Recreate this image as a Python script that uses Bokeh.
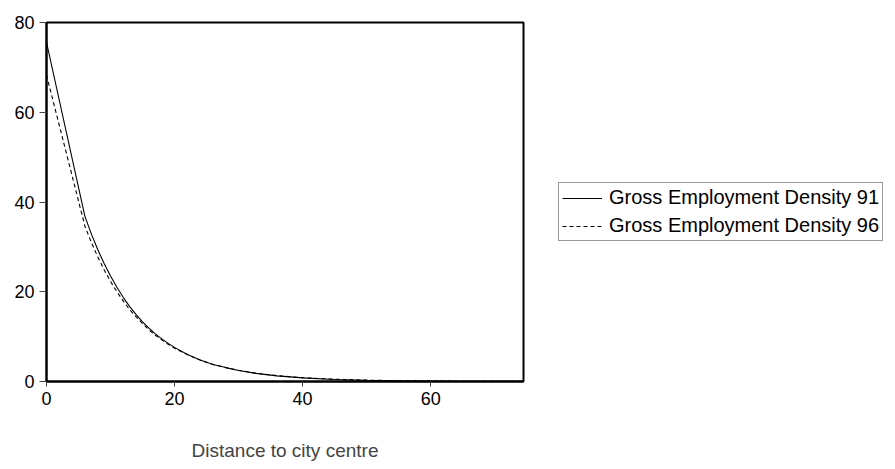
from bokeh.plotting import figure
from bokeh.models import Range1d, Legend, LegendItem, FixedTicker
from bokeh.embed import file_html
from bokeh.resources import INLINE

# Distance to city centre
dist = [0, 6, 7, 8, 9, 10, 11, 12, 13, 14, 15, 16, 17, 18, 19, 20, 22, 24, 26, 28,
        30, 33, 36, 40, 45, 50, 55, 60, 65, 70, 75]
# Gross Employment Density 91
dens91 = [75.6, 36.8, 32.9, 29.4, 26.3, 23.5, 21.0, 18.7, 16.7, 14.9, 13.3, 11.9,
          10.6, 9.5, 8.5, 7.6, 6.0, 4.8, 3.8, 3.1, 2.45, 1.75, 1.25, 0.8, 0.45,
          0.25, 0.14, 0.08, 0.05, 0.03, 0.02]
# Gross Employment Density 96
dens96 = [68.3, 34.6, 31.0, 27.8, 24.9, 22.3, 20.0, 17.9, 16.0, 14.4, 12.9, 11.5,
          10.3, 9.3, 8.3, 7.4, 6.0, 4.8, 3.8, 3.1, 2.5, 1.8, 1.3, 0.85, 0.5,
          0.3, 0.17, 0.1, 0.06, 0.04, 0.02]

x_ticks = [0, 20, 40, 60]
y_ticks = [0, 20, 40, 60, 80]
labels = ["Gross Employment Density 91", "Gross Employment Density 96"]

FONT = "Liberation Sans"
FS = "18px"

p = figure(frame_width=477, frame_height=359, output_backend="svg", toolbar_location=None,
           x_range=Range1d(0, 74.5), y_range=Range1d(0, 80),
           min_border_left=46, min_border_right=371, min_border_top=22,
           min_border_bottom=88)
p.background_fill_color = "white"
p.border_fill_color = "white"
p.outline_line_color = "black"
p.outline_line_width = 2
p.xgrid.visible = False
p.ygrid.visible = False

r1 = p.line(dist, dens91, line_color="black", line_width=1.1)
r2 = p.line(dist, dens96, line_color="black", line_width=1.1, line_dash="4 3")

for ax in (p.xaxis, p.yaxis):
    ax.axis_line_color = "black"
    ax.axis_line_width = 2
    ax.major_tick_line_color = "#444444"
    ax.major_tick_line_width = 1
    ax.minor_tick_line_color = None
    ax.major_tick_in = 0
    ax.major_label_text_font = FONT
    ax.major_label_text_font_size = FS
    ax.major_label_text_color = "black"

p.xaxis.ticker = FixedTicker(ticks=x_ticks)
p.yaxis.ticker = FixedTicker(ticks=y_ticks)
p.xaxis.major_tick_out = 5
p.yaxis.major_tick_out = 7
p.xaxis.major_label_standoff = 5
p.yaxis.major_label_standoff = 5
p.yaxis.major_label_text_baseline = "alphabetic"

p.xaxis.axis_label = "Distance to city centre"
p.xaxis.axis_label_text_font = FONT
p.xaxis.axis_label_text_font_size = "19px"
p.xaxis.axis_label_text_font_style = "normal"
p.xaxis.axis_label_standoff = 32

legend = Legend(items=[LegendItem(label=labels[0], renderers=[r1]),
                       LegendItem(label=labels[1], renderers=[r2])],
                location=(35, 140), orientation="vertical")
legend.border_line_color = "#333333"
legend.border_line_width = 1
legend.background_fill_color = "white"
legend.label_text_font = FONT
legend.label_text_font_size = "20px"
legend.label_text_color = "black"
legend.glyph_width = 40
legend.glyph_height = 22
legend.label_height = 22
legend.label_standoff = 7
legend.padding = 3
legend.spacing = 5
legend.margin = 0
p.add_layout(legend, "right")

open("out.html", "w").write(file_html(p, INLINE))
